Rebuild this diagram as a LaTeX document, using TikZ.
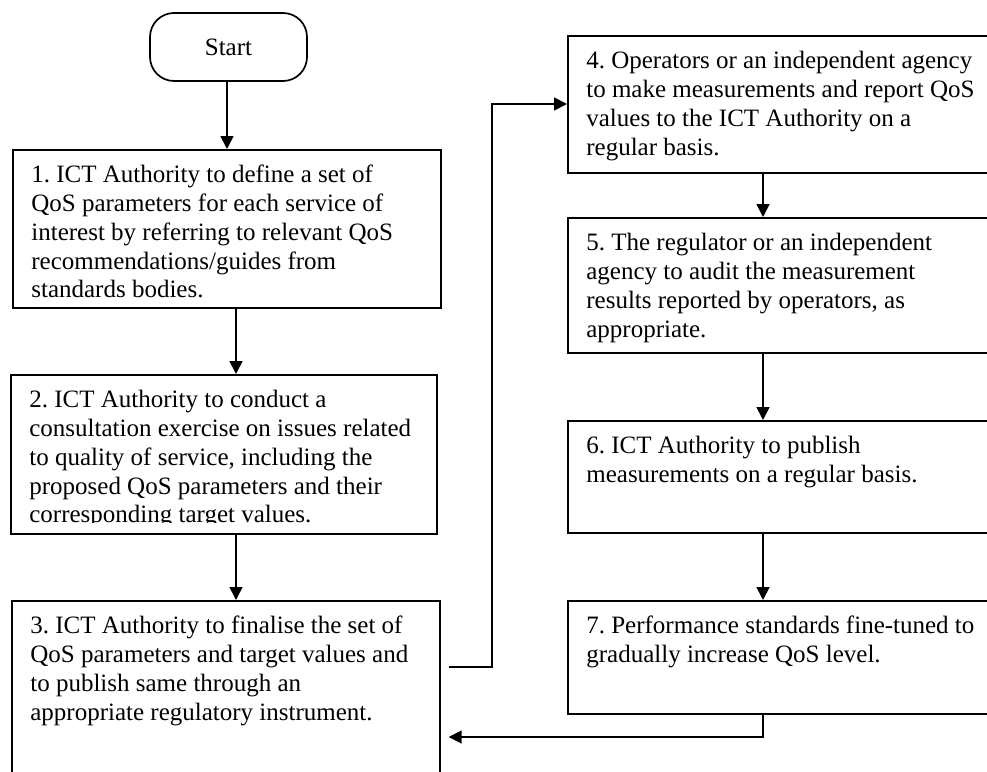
\documentclass[tikz,border=0pt]{standalone}
\usepackage{fontspec}
\setmainfont{Liberation Serif}
\usetikzlibrary{arrows.meta,calc}
\frenchspacing
\newcommand{\bxt}[3]{\vbox to #2pt{\hsize=#1pt\leftskip=18.5pt\rightskip=0pt plus 1fil\parindent=0pt\parfillskip=0pt plus 1fil\fontsize{25}{28.75}\selectfont\frenchspacing\rule{0pt}{33pt}#3\par\vfil}}
\begin{document}
\begin{tikzpicture}[x=1pt,y=-1pt,
  stepbox/.style={draw, line width=1.7pt, inner sep=0pt, anchor=north west},
  startbox/.style={draw, line width=1.7pt, inner sep=0pt, rounded corners=24pt,
    minimum width=157pt, minimum height=68pt, font=\fontsize{25}{28.75}\selectfont},
  arr/.style={line width=1.7pt, -{Triangle[length=13pt,width=13pt]}}]
\useasboundingbox (0,0) rectangle (987,771);
\clip (0,0) rectangle (987,771);

\node[startbox] (st) at (228.5,47) {Start};

\node[stepbox] (b1) at (12,149) {\bxt{428}{158}{1. ICT Authority to define a set of\\QoS parameters for each service of\\interest by referring to relevant QoS\\recommendations/guides from\\standards bodies.}};
\node[stepbox] (b2) at (10,374) {\bxt{426}{159}{2. ICT Authority to conduct a\\consultation exercise on issues related\\to quality of service, including the\\proposed QoS parameters and their\\corresponding target values.}};
\fill[white] ($(b2.south west)+(2.5,-2.5)$) rectangle ($(b2.south east)+(-2.5,-12)$);
\node[stepbox] (b3) at (11,600) {\bxt{428}{200}{3. ICT Authority to finalise the set of\\QoS parameters and target values and\\to publish same through an\\appropriate regulatory instrument.}};

\node[stepbox] (b4) at (567,35) {\bxt{440}{137}{4. Operators or an independent agency\\to make measurements and report QoS\\values to the ICT Authority on a\\regular basis.}};
\node[stepbox] (b5) at (567,217) {\bxt{440}{135}{5. The regulator or an independent\\agency to audit the measurement\\results reported by operators, as\\appropriate.}};
\node[stepbox] (b6) at (567,420) {\bxt{440}{112}{6. ICT Authority to publish\\measurements on a regular basis.}};
\node[stepbox] (b7) at (567,600) {\bxt{440}{113}{7. Performance standards fine-tuned to\\gradually increase QoS level.}};

\coordinate (xs) at (227,0);
\coordinate (xl) at (236,0);
\coordinate (xr) at (763,0);
\coordinate (c34) at (492,667);
\coordinate (y4) at (0,104);
\coordinate (c73) at (763,737);

\draw[arr] (st.south -| xs) -- (b1.north -| xs);
\draw[arr] (b1.south -| xl) -- (b2.north -| xl);
\draw[arr] (b2.south -| xl) -- (b3.north -| xl);
\draw[arr] ($(b3.east |- c34)+(8,0)$) -- (c34) -- (c34 |- y4) -- (b4.west |- y4);
\draw[arr] (b4.south -| xr) -- (b5.north -| xr);
\draw[arr] (b5.south -| xr) -- (b6.north -| xr);
\draw[arr] (b6.south -| xr) -- (b7.north -| xr);
\draw[arr] (b7.south -| xr) -- (c73) -- ($(b3.east |- c73)+(8,0)$);
\end{tikzpicture}
\end{document}
